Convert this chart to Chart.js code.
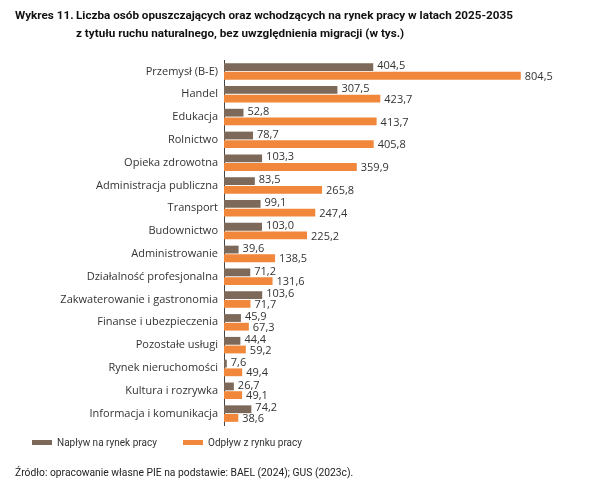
<!DOCTYPE html>
<html>
<head>
<meta charset="utf-8">
<script src="https://cdn.jsdelivr.net/npm/chart.js@4.4.0/dist/chart.umd.min.js"></script>
<style>
  body { margin: 0; background: #fff; font-family: "Open Sans", sans-serif; }
  #wrap { position: relative; width: 602px; height: 485px; }
  canvas { position: absolute; left: 0; top: 0; }
  .title { position: absolute; left: 15px; top: 6px; font-family: Roboto, sans-serif; font-size: 11.7px; font-weight: bold; color: #111; line-height: 18px; }
  .title .num { position: absolute; left: 0; top: 0; }
  .title .txt { margin-left: 61px; white-space: nowrap; }
  .legend { position: absolute; top: 437px; font-family: Roboto, sans-serif; font-size: 10px; color: #333; }
  .legend i { display: inline-block; width: 20px; height: 5px; vertical-align: middle; margin-right: 5px; position: relative; top: -1px; }
  .src { position: absolute; left: 15px; top: 466px; font-family: Roboto, sans-serif; font-size: 10.3px; color: #222; }
</style>
</head>
<body>
<div id="wrap">
  <canvas id="myChart" width="602" height="485"></canvas>
  <div class="title"><span class="num">Wykres 11.</span><div class="txt">Liczba osób opuszczających oraz wchodzących na rynek pracy w latach 2025-2035<br>z tytułu ruchu naturalnego, bez uwzględnienia migracji (w tys.)</div></div>
  <div class="legend" id="leg0" style="left:32px"></div>
  <div class="legend" id="leg1" style="left:183px"></div>
  <div class="src">Źródło: opracowanie własne PIE na podstawie: BAEL (2024); GUS (2023c).</div>
</div>
<script>
  // data
  var categories = ['Przemysł (B-E)', 'Handel', 'Edukacja', 'Rolnictwo', 'Opieka zdrowotna',
      'Administracja publiczna', 'Transport', 'Budownictwo', 'Administrowanie',
      'Działalność profesjonalna', 'Zakwaterowanie i gastronomia', 'Finanse i ubezpieczenia',
      'Pozostałe usługi', 'Rynek nieruchomości', 'Kultura i rozrywka', 'Informacja i komunikacja'];
  var naplyw = [404.5, 307.5, 52.8, 78.7, 103.3, 83.5, 99.1, 103.0, 39.6, 71.2, 103.6, 45.9, 44.4, 7.6, 26.7, 74.2];
  var odplyw = [804.5, 423.7, 413.7, 405.8, 359.9, 265.8, 247.4, 225.2, 138.5, 131.6, 71.7, 67.3, 59.2, 49.4, 49.1, 38.6];
  var seriesNames = ['Napływ na rynek pracy', 'Odpływ z rynku pracy'];
  var colors = ['#7d6959', '#f0873a'];

  var fontFamily = '"Open Sans", sans-serif';

  // value labels at the end of each bar
  var valueLabels = {
      id: 'valueLabels',
      afterDatasetsDraw: function(chart) {
          var ctx = chart.ctx;
          ctx.save();
          ctx.font = '11px ' + fontFamily;
          ctx.fillStyle = '#333';
          ctx.textBaseline = 'middle';
          chart.data.datasets.forEach(function(ds, i) {
              chart.getDatasetMeta(i).data.forEach(function(bar, j) {
                  var txt = ds.data[j].toFixed(1).replace('.', ',');
                  ctx.fillText(txt, bar.x + 4, bar.y + (i === 0 ? -1 : 1));
              });
          });
          ctx.restore();
      }
  };

  var ctx = document.getElementById('myChart').getContext('2d');
  var chart = new Chart(ctx, {
      type: 'bar',
      data: {
          labels: categories,
          datasets: [{
              label: seriesNames[0],
              data: naplyw,
              backgroundColor: colors[0]
          }, {
              label: seriesNames[1],
              data: odplyw,
              backgroundColor: colors[1]
          }]
      },
      options: {
          indexAxis: 'y',
          responsive: false,
          animation: false,
          categoryPercentage: 0.76,
          barPercentage: 0.9,
          layout: { padding: { top: 60, right: 46, bottom: 60, left: 0 } },
          scales: {
              x: {
                  display: false,
                  min: 0,
                  max: 900
              },
              y: {
                  afterFit: function(scale) { scale.width = 224; },
                  grid: { display: false, drawTicks: false },
                  border: { display: true, color: '#444', width: 1 },
                  ticks: {
                      padding: 6,
                      color: '#333',
                      font: { family: fontFamily, size: 11 }
                  }
              }
          },
          plugins: {
              tooltip: { enabled: false },
              legend: { display: false }
          }
      },
      plugins: [valueLabels]
  });

  // legend from the dataset names
  seriesNames.forEach(function(name, i) {
      var el = document.getElementById('leg' + i);
      el.innerHTML = '<i style="background:' + colors[i] + '"></i>';
      el.appendChild(document.createTextNode(name));
  });
</script>
</body>
</html>
